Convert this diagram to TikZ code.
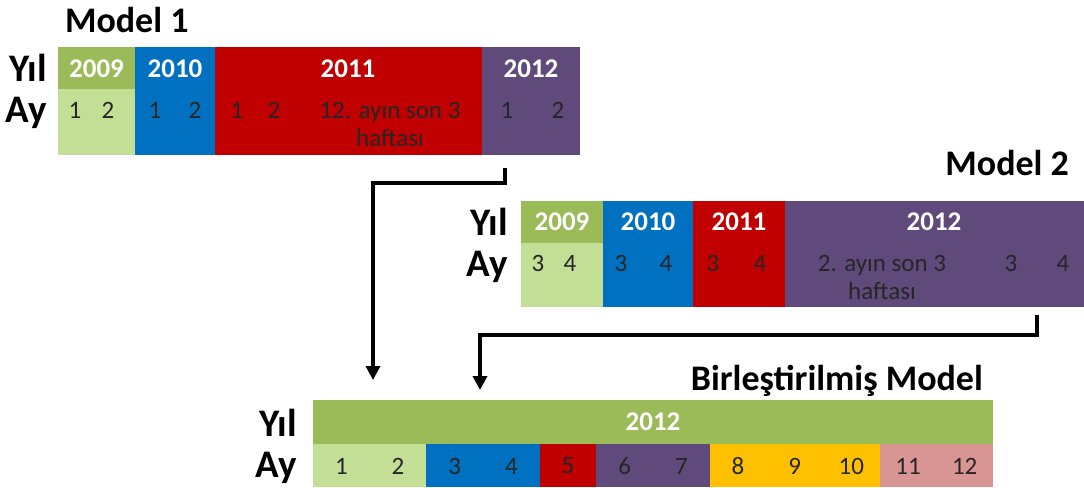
\documentclass[tikz,border=0pt]{standalone}
\usepackage{fontspec}
\setmainfont{Carlito}
\usetikzlibrary{arrows.meta}
\definecolor{ygreen}{HTML}{9BBB59}
\definecolor{lgreen}{HTML}{C3DF96}
\definecolor{oblue}{HTML}{0070C0}
\definecolor{ored}{HTML}{C00000}
\definecolor{opurple}{HTML}{604A7B}
\definecolor{oamber}{HTML}{FFC000}
\definecolor{opink}{HTML}{D99594}
\tikzset{
  ttl/.style={font=\bfseries\fontsize{18}{20}\selectfont},
  lbl/.style={font=\bfseries\fontsize{19.5}{21}\selectfont},
  yr/.style={font=\bfseries\fontsize{13.5}{15}\selectfont,text=white},
  mon/.style={font=\fontsize{12.5}{14}\selectfont,text=black!85},
  flow/.style={line width=2pt,-{Triangle[length=7pt,width=7pt]}}
}

\begin{document}
\begin{tikzpicture}[x=0.5pt,y=-0.5pt]
  \useasboundingbox (0,0) rectangle (1084,488);

  % Model 1
  \node[ttl,anchor=west] (m1) at (58,20) {Model 1};
  \fill[ygreen]  (58,47) rectangle (135,89);
  \fill[lgreen]  (58,89) rectangle (135,155);
  \fill[oblue]   (135,47) rectangle (215,155);
  \fill[ored]    (215,47) rectangle (482,155);
  \fill[opurple] (482,47) rectangle (580,155);
  \node[lbl,anchor=east] (m1yil) at (54,68) {Yıl};
  \node[lbl,anchor=east] (m1ay) at (54,113) {Ay};
  \foreach \x/\t [count=\i] in {96.5/2009,175/2010,348/2011,531/2012}
    \node[yr] (m1y\i) at (\x,69) {\t};
  \foreach \x/\t [count=\i] in {75/1,108/2,155/1,195/2,237/1,274/2,507/1,558/2}
    \node[mon] (m1a\i) at (\x,110) {\t};
  \node[mon,align=center] (m1part) at (390,124) {12. ayın son 3\\haftası};

  % Model 2
  \node[ttl,anchor=east] (m2) at (1076,163) {Model 2};
  \fill[ygreen]  (521,201) rectangle (603,243);
  \fill[lgreen]  (521,243) rectangle (603,307);
  \fill[oblue]   (603,201) rectangle (693,307);
  \fill[ored]    (693,201) rectangle (785,307);
  \fill[opurple] (785,201) rectangle (1084,307);
  \node[lbl,anchor=east] (m2yil) at (515,222) {Yıl};
  \node[lbl,anchor=east] (m2ay) at (515,267) {Ay};
  \foreach \x/\t [count=\i] in {562/2009,648/2010,739/2011,934/2012}
    \node[yr] (m2y\i) at (\x,222) {\t};
  \foreach \x/\t [count=\i] in {538/3,570/4,621/3,666/4,713/3,760/4,1011/3,1063/4}
    \node[mon] (m2a\i) at (\x,263) {\t};
  \node[mon,align=center] (m2part) at (882,277) {2. ayın son 3\\haftası};

  % Combined model
  \node[ttl,anchor=east] (cm) at (990,381) {Birleştirilmiş Model};
  \fill[ygreen] (313,400) rectangle (993,444);
  \foreach \a/\b/\c in {0/2/lgreen,2/4/oblue,4/5/ored,5/7/opurple,7/10/oamber,10/12/opink}
    \fill[\c] ({313+\a*56.67},444) rectangle ({313+\b*56.67},487);
  \node[lbl,anchor=east] (cyil) at (304,423) {Yıl};
  \node[lbl,anchor=east] (cay) at (304,468) {Ay};
  \node[yr] (cy) at (653,422) {2012};
  \foreach \m in {1,...,12}
    \node[mon] (ca\m) at ({313+(\m-0.5)*56.67},466) {\m};

  % Arrows
  \coordinate (m1out) at (505,168);
  \coordinate (cin1) at (373,380);
  \coordinate (m2out) at (1037,315);
  \coordinate (cin2) at (480,390);
  \draw[flow] (m1out) -- ++(0,15) -| (cin1);
  \draw[flow] (m2out) -- ++(0,20) -| (cin2);
\end{tikzpicture}
\end{document}
